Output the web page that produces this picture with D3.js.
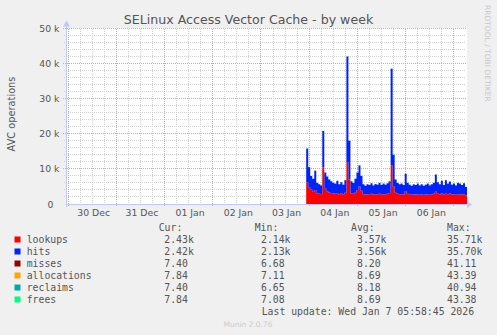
<!DOCTYPE html>
<html>
<head>
<meta charset="utf-8">
<script src="https://cdn.jsdelivr.net/npm/d3@7"></script>
<style>
body { margin: 0; background: #f0f0f0; }
svg { display: block; }
</style>
</head>
<body>
<div id="container"></div>
<script>
// series, one value per hour from Jan 3 22:30 UTC
const lookups = [6200,4800,4200,3500,4000,3000,2900,2800,10500,4500,
    3600,3300,3100,3000,2900,3100,2800,3000,2800,3200,
    12000,7000,3000,2900,3200,4000,5000,3800,2800,2700,
    2800,2800,2900,2700,2800,2800,2900,2700,2800,2800,
    2900,3100,11000,5000,3200,2900,2800,2800,2700,3600,
    2900,2800,2600,2700,2700,2800,2600,2700,2600,2700,
    2800,2600,2700,2900,3500,2900,2700,3000,2700,3100,
    2800,3000,2700,2800,2600,2800,2800,2700,2800,2430];
const hits = [9600,5700,3800,3700,5500,3000,2700,2500,10300,4500,
    4200,3700,3400,3000,2900,3500,2800,3200,2700,3600,
    30000,11000,3500,3100,4000,5000,6000,4200,2800,2500,
    2800,2600,3000,2600,2900,2700,3100,2700,3000,2700,
    3000,3400,27500,9000,3800,3100,2800,3000,2700,5000,
    3100,2700,2600,2900,2700,3000,2700,2900,2600,2800,
    3000,2700,2900,3100,4900,3300,2900,3600,2700,3700,
    3000,3400,2800,3000,2700,3200,3000,2700,3100,2420];
const misses = [12,9,8,7.5,8,7.2,7.0,6.9,15,8.5,
    7.8,7.4,7.2,7.0,6.9,7.3,6.9,7.1,6.8,7.5,
    41,18,7.2,7.0,7.6,8.8,10.5,8.2,6.9,6.8,
    6.9,6.8,7.0,6.7,6.9,6.8,7.0,6.7,6.9,6.8,
    7.0,7.3,32,11,7.5,7.0,6.9,7.0,6.8,8.6,
    7.0,6.9,6.7,6.9,6.8,7.0,6.7,6.9,6.7,6.8,
    7.0,6.7,6.9,7.1,8.4,7.1,6.9,7.3,6.8,7.5,
    7.0,7.3,6.8,7.0,6.7,7.1,7.0,6.8,7.1,7.4];
const allocations = [12.6,9.5,8.5,8.0,8.5,7.7,7.5,7.4,15.8,9.0,
    8.3,7.9,7.7,7.5,7.4,7.8,7.4,7.6,7.3,8.0,
    43.4,19,7.7,7.5,8.1,9.3,11.1,8.7,7.4,7.3,
    7.4,7.3,7.5,7.2,7.4,7.3,7.5,7.2,7.4,7.3,
    7.5,7.8,33.5,11.6,8.0,7.5,7.4,7.5,7.3,9.1,
    7.5,7.4,7.2,7.4,7.3,7.5,7.2,7.4,7.2,7.3,
    7.5,7.2,7.4,7.6,8.9,7.6,7.4,7.8,7.3,8.0,
    7.5,7.8,7.3,7.5,7.2,7.6,7.5,7.3,7.6,7.84];
const reclaims = [11.9,9.0,8.0,7.4,7.9,7.1,7.0,6.8,14.9,8.4,
    7.7,7.4,7.1,6.9,6.9,7.2,6.8,7.0,6.7,7.4,
    40.9,17.8,7.1,6.9,7.5,8.7,10.4,8.1,6.8,6.7,
    6.8,6.7,6.9,6.65,6.8,6.7,6.9,6.7,6.8,6.7,
    6.9,7.2,31.8,10.9,7.4,6.9,6.8,6.9,6.7,8.5,
    6.9,6.8,6.7,6.8,6.7,6.9,6.7,6.8,6.7,6.7,
    6.9,6.7,6.8,7.0,8.3,7.0,6.8,7.2,6.7,7.4,
    6.9,7.2,6.7,6.9,6.7,7.0,6.9,6.7,7.0,7.40];
const frees = [12.5,9.4,8.5,7.9,8.4,7.6,7.5,7.3,15.7,8.9,
    8.2,7.9,7.6,7.4,7.4,7.7,7.3,7.5,7.2,7.9,
    43.4,18.9,7.6,7.4,8.0,9.2,11.0,8.6,7.3,7.2,
    7.3,7.2,7.4,7.1,7.3,7.2,7.4,7.1,7.3,7.2,
    7.4,7.7,33.4,11.5,7.9,7.4,7.3,7.4,7.2,9.0,
    7.4,7.3,7.1,7.3,7.2,7.4,7.1,7.3,7.08,7.2,
    7.4,7.1,7.3,7.5,8.8,7.5,7.3,7.7,7.2,7.9,
    7.4,7.7,7.2,7.4,7.1,7.5,7.4,7.2,7.5,7.84];

const seriesNames = ['lookups', 'hits', 'misses', 'allocations', 'reclaims', 'frees'];
const seriesColors = ['#ff0000', '#0022ff', '#990000', '#ffa500', '#00aaaa', '#00ff7f'];
const curValues = ['2.43k', '2.42k', '7.40', '7.84', '7.40', '7.84'];
const minValues = ['2.14k', '2.13k', '6.68', '7.11', '6.65', '7.08'];
const avgValues = ['3.57k', '3.56k', '8.20', '8.69', '8.18', '8.69'];
const maxValues = ['35.71k', '35.70k', '41.11', '43.39', '40.94', '43.38'];
const yTicks = [0, 10000, 20000, 30000, 40000, 50000];
const dayLabels = ['30 Dec', '31 Dec', '01 Jan', '02 Jan', '03 Jan', '04 Jan', '05 Jan', '06 Jan'];

const width = 497, height = 335;
const plotLeft = 66, plotRight = 466, plotTop = 28.5, plotBottom = 204;
const tStart = new Date(Date.UTC(2025, 11, 29, 23, 0));
const tEnd = new Date(Date.UTC(2026, 0, 7, 6, 0));
const dataStart = new Date(Date.UTC(2026, 0, 3, 22, 30));

const x = d3.scaleUtc().domain([tStart, tEnd]).range([plotLeft, plotRight]);
const y = d3.scaleLinear().domain([0, 50000]).range([plotBottom, plotTop]);
const crisp = v => Math.floor(v) + 0.5;

const svg = d3.select('#container').append('svg')
    .attr('width', width)
    .attr('height', height)
    .attr('viewBox', [0, 0, width, height]);

svg.append('rect').attr('width', width).attr('height', height).attr('fill', '#f0f0f0');
svg.append('rect')
    .attr('x', plotLeft + 1).attr('y', Math.floor(plotTop))
    .attr('width', plotRight - plotLeft).attr('height', plotBottom - Math.floor(plotTop))
    .attr('fill', '#ffffff');

// grid
const grid = svg.append('g').attr('stroke-width', 1).attr('shape-rendering', 'crispEdges');
const minorY = d3.range(2000, 50001, 2000).filter(v => v % 10000 !== 0);
grid.selectAll('.hmin').data(minorY).enter().append('line')
    .attr('x1', plotLeft - 2).attr('x2', plotRight)
    .attr('y1', d => crisp(y(d))).attr('y2', d => crisp(y(d)))
    .attr('stroke', '#d0d0d0').attr('stroke-dasharray', '1,1');
grid.selectAll('.hmaj').data(yTicks.filter(v => v > 0)).enter().append('line')
    .attr('x1', plotLeft - 3).attr('x2', plotRight)
    .attr('y1', d => crisp(y(d))).attr('y2', d => crisp(y(d)))
    .attr('stroke', '#ef9a9a').attr('stroke-dasharray', '1,1');

const hours6 = d3.utcHour.every(6).range(tStart, tEnd).filter(d => d.getUTCHours() !== 0);
const days = d3.utcDay.range(tStart, tEnd);
grid.selectAll('.vmin').data(hours6).enter().append('line')
    .attr('x1', d => crisp(x(d))).attr('x2', d => crisp(x(d)))
    .attr('y1', plotTop).attr('y2', plotBottom + 2)
    .attr('stroke', '#d0d0d0').attr('stroke-dasharray', '1,1');
grid.selectAll('.vmaj').data(days).enter().append('line')
    .attr('x1', d => crisp(x(d))).attr('x2', d => crisp(x(d)))
    .attr('y1', plotTop).attr('y2', plotBottom + 3)
    .attr('stroke', '#ef9a9a').attr('stroke-dasharray', '1,1');

// stacked areas
const rows = lookups.map((v, i) => ({
    t: d3.utcHour.offset(dataStart, i),
    lookups: v, hits: hits[i], misses: misses[i],
    allocations: allocations[i], reclaims: reclaims[i], frees: frees[i]
}));
rows.push(Object.assign({}, rows[rows.length - 1], { t: d3.utcHour.offset(dataStart, rows.length) }));
const stacked = d3.stack().keys(seriesNames)(rows);

svg.append('clipPath').attr('id', 'plotclip')
    .append('rect').attr('x', plotLeft + 1).attr('y', 0).attr('width', plotRight - plotLeft).attr('height', plotBottom);

const area = d3.area()
    .curve(d3.curveStepAfter)
    .x(d => x(d.data.t))
    .y0(d => y(d[0]))
    .y1(d => y(d[1]));

svg.append('g').attr('clip-path', 'url(#plotclip)')
    .selectAll('path')
    .data(stacked)
    .enter().append('path')
    .attr('d', area)
    .attr('fill', (d, i) => seriesColors[i]);

// axes
const axisColor = '#c4c4ff';
svg.append('line')
    .attr('x1', plotLeft).attr('x2', plotRight + 2)
    .attr('y1', crisp(y(0))).attr('y2', crisp(y(0)))
    .attr('stroke', axisColor).attr('shape-rendering', 'crispEdges');
svg.append('line')
    .attr('x1', plotLeft + 0.5).attr('x2', plotLeft + 0.5)
    .attr('y1', plotBottom + 3).attr('y2', plotTop - 3)
    .attr('stroke', axisColor).attr('shape-rendering', 'crispEdges');
svg.append('path')
    .attr('d', `M${plotRight + 1},${plotBottom - 3}L${plotRight + 6},${plotBottom + 0.5}L${plotRight + 1},${plotBottom + 4}Z`)
    .attr('fill', axisColor);
svg.append('path')
    .attr('d', `M${plotLeft - 3},${plotTop - 2}L${plotLeft + 0.5},${plotTop - 8}L${plotLeft + 4},${plotTop - 2}Z`)
    .attr('fill', axisColor);

// tick labels
svg.append('g')
    .selectAll('text')
    .data(yTicks)
    .enter().append('text')
    .attr('x', d => d === 0 ? 53.5 : 59.5)
    .attr('y', d => y(d) + 3.5)
    .attr('text-anchor', 'end')
    .attr('font-family', 'DejaVu Sans')
    .attr('font-size', '9.3px')
    .attr('fill', '#555')
    .text(d => d === 0 ? '0' : `${d / 1000} k`);

svg.append('g')
    .selectAll('text')
    .data(days)
    .enter().append('text')
    .attr('x', d => x(d3.utcHour.offset(d, 12)) + 1.5)
    .attr('y', 216)
    .attr('text-anchor', 'middle')
    .attr('font-family', 'DejaVu Sans')
    .attr('font-size', '9.3px')
    .attr('fill', '#555')
    .text((d, i) => dayLabels[i]);

// title and side texts
svg.append('text')
    .attr('x', 248.5).attr('y', 24)
    .attr('text-anchor', 'middle')
    .attr('font-family', 'DejaVu Sans')
    .attr('font-size', '12.6px')
    .attr('fill', '#555')
    .text('SELinux Access Vector Cache - by week');

svg.append('text')
    .attr('transform', 'translate(15,114) rotate(-90)')
    .attr('text-anchor', 'middle')
    .attr('font-family', 'DejaVu Sans')
    .attr('font-size', '9.8px')
    .attr('fill', '#555')
    .text('AVC operations');

svg.append('text')
    .attr('transform', 'translate(485,5) rotate(90)')
    .attr('font-family', 'DejaVu Sans')
    .attr('font-size', '7.5px')
    .attr('fill', '#c8c8c8')
    .text('RRDTOOL / TOBI OETIKER');

// legend
const legend = svg.append('g')
    .attr('font-family', 'DejaVu Sans Mono')
    .attr('font-size', '9.8px')
    .attr('fill', '#555')
    .style('white-space', 'pre');

const headers = [['Cur:', 158.7], ['Min:', 254.7], ['Avg:', 351], ['Max:', 447]];
headers.forEach(([h, hx]) => {
    legend.append('text').attr('x', hx).attr('y', 231).text(h);
});

const cols = [[curValues, 164.3], [minValues, 261], [avgValues, 357], [maxValues, 447]];
seriesNames.forEach((name, i) => {
    const ry = 243 + i * 12;
    legend.append('rect')
        .attr('x', 14.5).attr('y', ry - 6.5)
        .attr('width', 6).attr('height', 6)
        .attr('fill', seriesColors[i]);
    legend.append('text').attr('x', 26.7).attr('y', ry).text(name);
    cols.forEach(([vals, cx]) => {
        legend.append('text').attr('x', cx).attr('y', ry).text(vals[i]);
    });
});

legend.append('text')
    .attr('x', 261.7).attr('y', 314.5)
    .text('Last update: Wed Jan  7 05:58:45 2026');

svg.append('text')
    .attr('x', 248).attr('y', 327)
    .attr('text-anchor', 'middle')
    .attr('font-family', 'DejaVu Sans')
    .attr('font-size', '7.5px')
    .attr('fill', '#cccccc')
    .text('Munin 2.0.76');
</script>
</body>
</html>
